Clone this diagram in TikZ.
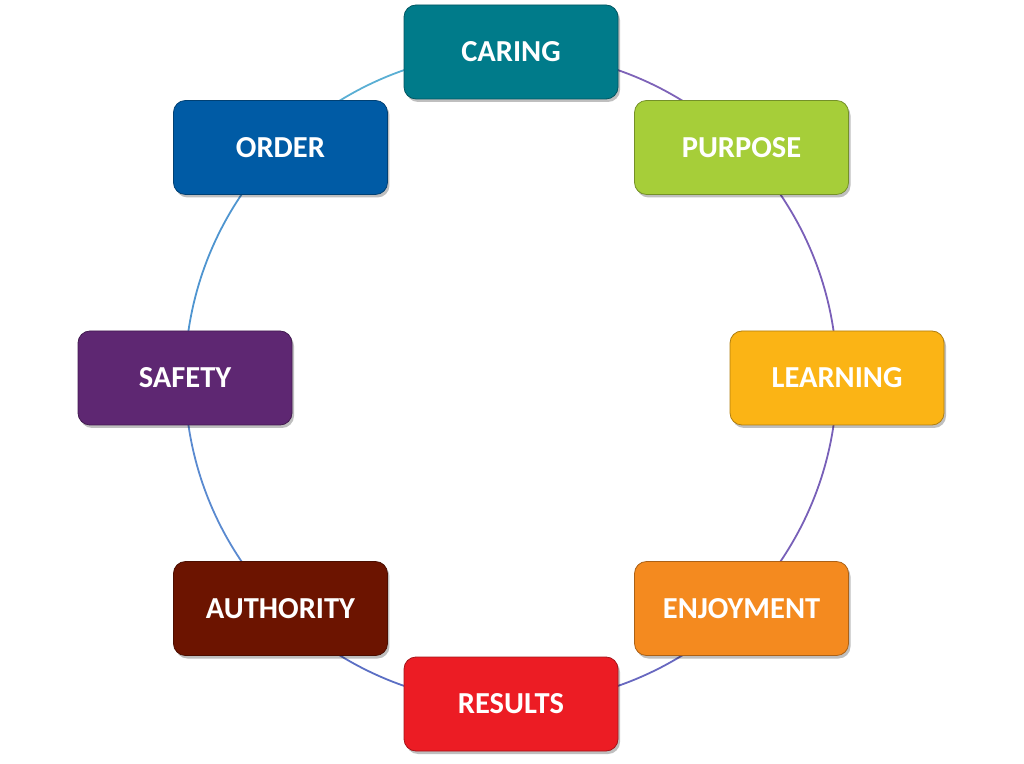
\documentclass[tikz,border=0pt]{standalone}
\usepackage{fontspec}
\setmainfont{Carlito}
\usepackage{xcolor}
\usepackage{tikz}
\usetikzlibrary{calc,shadows,backgrounds}

\definecolor{caringc}{HTML}{007B8A}
\definecolor{purposec}{HTML}{A6CE39}
\definecolor{learningc}{HTML}{FBB415}
\definecolor{enjoyc}{HTML}{F48A1F}
\definecolor{resultsc}{HTML}{EC1C24}
\definecolor{authorityc}{HTML}{6C1400}
\definecolor{safetyc}{HTML}{5E2772}
\definecolor{orderc}{HTML}{005BA5}
% ring colours
\definecolor{ringA}{HTML}{7E63B8}
\definecolor{ringB}{HTML}{7A5FB8}
\definecolor{ringC}{HTML}{7860B8}
\definecolor{ringD}{HTML}{6868C0}
\definecolor{ringE}{HTML}{5B6FC4}
\definecolor{ringF}{HTML}{5A8AD0}
\definecolor{ringG}{HTML}{4F95D0}
\definecolor{ringH}{HTML}{5AAFD4}

\begin{document}
\begin{tikzpicture}[
  x=1pt, y=1pt,
  box/.style={rectangle, rounded corners=12pt, fill=#1, draw=#1!70!black, line width=0.8pt,
              minimum width=214pt, minimum height=94pt, text=white,
              font=\fontsize{30.5}{36}\selectfont\bfseries,
              drop shadow={shadow xshift=2pt, shadow yshift=-3pt, opacity=0.25, fill=black}},
  link/.style={line width=1.8pt, bend left=22.5, looseness=0.885, draw=#1}
]
\useasboundingbox (0,0) rectangle (1024,763);
\coordinate (mid) at (511,385);
\node[box=caringc]    (caring)    at ($(mid)+(90:326)$)  {CARING};
\node[box=purposec]   (purpose)   at ($(mid)+(45:326)$)  {PURPOSE};
\node[box=learningc]  (learning)  at ($(mid)+(0:326)$)   {LEARNING};
\node[box=enjoyc]     (enjoyment) at ($(mid)+(-45:326)$) {ENJOYMENT};
\node[box=resultsc]   (results)   at ($(mid)+(-90:326)$) {RESULTS};
\node[box=authorityc] (authority) at ($(mid)+(-135:326)$) {AUTHORITY};
\node[box=safetyc]    (safety)    at ($(mid)+(180:326)$) {SAFETY};
\node[box=orderc]     (order)     at ($(mid)+(135:326)$) {ORDER};
\begin{pgfonlayer}{background}
\draw[link=ringA] (caring.center) to (purpose.center);
\draw[link=ringB] (purpose.center) to (learning.center);
\draw[link=ringC] (learning.center) to (enjoyment.center);
\draw[link=ringD] (enjoyment.center) to (results.center);
\draw[link=ringE] (results.center) to (authority.center);
\draw[link=ringF] (authority.center) to (safety.center);
\draw[link=ringG] (safety.center) to (order.center);
\draw[link=ringH] (order.center) to (caring.center);
\end{pgfonlayer}
\end{tikzpicture}
\end{document}
